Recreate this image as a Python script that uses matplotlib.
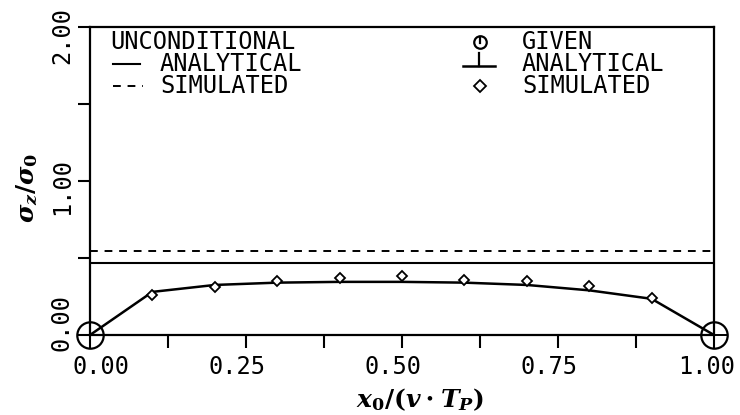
import matplotlib
matplotlib.use("Agg")
import matplotlib.pyplot as plt
import matplotlib.transforms as mtransforms
from matplotlib.lines import Line2D

# ---------------- data ----------------
x_given = [0.0, 1.0]
y_given = [0.0, 0.0]

x_analytical = [0.0, 0.1, 0.2, 0.3, 0.4, 0.5, 0.6, 0.7, 0.8, 0.9, 1.0]
y_analytical = [0.0, 0.28, 0.325, 0.34, 0.345, 0.345, 0.34, 0.325, 0.29, 0.235, 0.0]

x_simulated = [0.1, 0.2, 0.3, 0.4, 0.5, 0.6, 0.7, 0.8, 0.9]
y_simulated = [0.26, 0.31, 0.35, 0.37, 0.38, 0.36, 0.35, 0.32, 0.24]

uncond_analytical = 0.47
uncond_simulated = 0.545

xtick_values = [0.0, 0.25, 0.5, 0.75, 1.0]
xtick_labels = ["0.00", "0.25", "0.50", "0.75", "1.00"]
ytick_values = [0.0, 1.0, 2.0]
ytick_labels = ["0.00", "1.00", "2.00"]

legend_left = ["UNCONDITIONAL", "ANALYTICAL", "SIMULATED"]
legend_right = ["GIVEN", "ANALYTICAL", "SIMULATED"]

# ---------------- style ----------------
plt.rcParams["mathtext.fontset"] = "custom"
plt.rcParams["mathtext.it"] = "DejaVu Serif:italic:bold"
plt.rcParams["mathtext.rm"] = "DejaVu Serif:bold"
plt.rcParams["mathtext.bf"] = "DejaVu Serif:bold"
MONO = "DejaVu Sans Mono"
FS = 17

W, H = 740, 415
fig = plt.figure(figsize=(W / 100, H / 100), dpi=100)
L, R, B, T = 90, 714, 335, 27
ax = fig.add_axes([L / W, 1 - B / H, (R - L) / W, (B - T) / H])
ax.set_xlim(0, 1)
ax.set_ylim(0, 2)
for s in ax.spines.values():
    s.set_linewidth(1.6)

ax.set_xticks([i * 0.125 for i in range(9)])
ax.set_yticks([i * 0.5 for i in range(5)])
ax.tick_params(direction="out", length=9, width=1.5, labelbottom=False, labelleft=False)

# unconditional lines
ax.axhline(uncond_analytical, color="black", lw=1.5)
ax.axhline(uncond_simulated, color="black", lw=1.4, ls=(0, (4, 3.5)))

# conditional analytical
ax.plot(x_analytical, y_analytical, color="black", lw=1.8, zorder=3)
# simulated
ax.plot(x_simulated, y_simulated, ls="none", marker="D", ms=5.5, mfc="white",
        mec="black", mew=1.3, zorder=4)
# given
ax.plot(x_given, y_given, ls="none", marker="o", ms=19, mfc="none", mec="black",
        mew=1.6, zorder=5, clip_on=False)
ax.plot(x_given, y_given, ls="none", marker="+", ms=19, mec="black",
        mew=1.4, zorder=5, clip_on=False)

# tick labels (manual, to mimic offsets)
xoffs = [11, -9, -9, -9, -7]
for v, lab, dx in zip(xtick_values, xtick_labels, xoffs):
    tr = ax.get_xaxis_transform() + mtransforms.ScaledTranslation(dx / 100, 0, fig.dpi_scale_trans)
    ax.text(v, -(367 - B) / (B - T), lab, transform=tr, ha="center", va="center",
            fontsize=FS, family=MONO)
yoffs = [13, -5, -8]
for v, lab, dy in zip(ytick_values, ytick_labels, yoffs):
    tr = ax.get_yaxis_transform() + mtransforms.ScaledTranslation(0, dy / 100, fig.dpi_scale_trans)
    ax.text(-(L - 62) / (R - L), v, lab, transform=tr, ha="center", va="center",
            rotation=90, fontsize=FS, family=MONO)

# axis labels
fig.text(420 / W, 1 - 400 / H, r"$x_0/(v\cdot T_P)$", ha="center", va="center", fontsize=18)
fig.text(27 / W, 1 - 188 / H, r"$\sigma_z/\sigma_0$", ha="center", va="center",
         rotation=90, fontsize=18)

# legend
def fy(py):
    return (B - py) / (B - T)
def fx(px):
    return (px - L) / (R - L)

rows = [42, 64, 86]
ax.text(fx(110), fy(rows[0]), legend_left[0], transform=ax.transAxes, ha="left",
        va="center", fontsize=FS, family=MONO)
ax.text(fx(160), fy(rows[1]), legend_left[1], transform=ax.transAxes, ha="left",
        va="center", fontsize=FS, family=MONO)
ax.text(fx(160), fy(rows[2]), legend_left[2], transform=ax.transAxes, ha="left",
        va="center", fontsize=FS, family=MONO)
ax.add_line(Line2D([fx(113), fx(140)], [fy(rows[1])] * 2, transform=ax.transAxes,
                   color="black", lw=1.5))
ax.add_line(Line2D([fx(113), fx(143)], [fy(rows[2])] * 2, transform=ax.transAxes,
                   color="black", lw=1.4, ls=(0, (4, 3.5))))

for r, lab in zip(rows, legend_right):
    ax.text(fx(522), fy(r), lab, transform=ax.transAxes, ha="left", va="center",
            fontsize=FS, family=MONO)
# given symbol
ax.plot([fx(480)], [fy(rows[0])], transform=ax.transAxes, marker="o", ms=9,
        mfc="none", mec="black", mew=1.6)
ax.add_line(Line2D([fx(480), fx(480)], [fy(rows[0] - 5), fy(rows[0] + 1)],
                   transform=ax.transAxes, color="black", lw=1.6))
# analytical symbol
ax.add_line(Line2D([fx(463), fx(495)], [fy(rows[1] + 2)] * 2, transform=ax.transAxes,
                   color="black", lw=1.8))
ax.add_line(Line2D([fx(479), fx(479)], [fy(rows[1] - 11), fy(rows[1] + 2)],
                   transform=ax.transAxes, color="black", lw=1.6))
# simulated symbol
ax.plot([fx(480)], [fy(rows[2])], transform=ax.transAxes, marker="D", ms=6,
        mfc="white", mec="black", mew=1.3)

fig.savefig("out.png", dpi=100)
